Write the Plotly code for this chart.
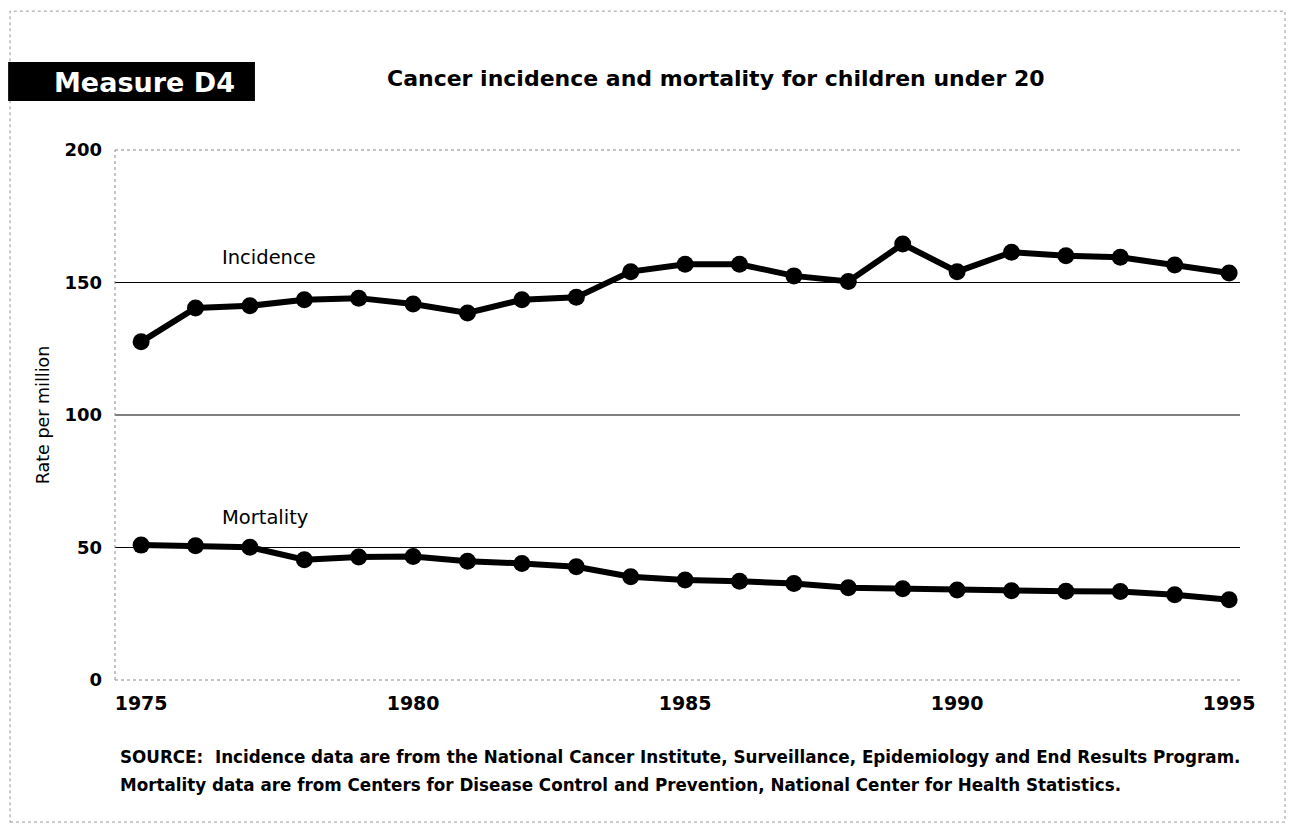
import plotly.graph_objects as go

# data
years = list(range(1975, 1996))
incidence = [127.6, 140.4, 141.2, 143.5, 144.1, 141.9, 138.5, 143.5, 144.4, 154.1, 156.9,
             156.9, 152.5, 150.4, 164.5, 154.1, 161.4, 160.1, 159.5, 156.6, 153.6]
mortality = [50.9, 50.7, 50.1, 45.4, 46.4, 46.6, 44.8, 44.0, 42.7, 39.0, 37.7,
             37.3, 36.4, 34.8, 34.4, 34.0, 33.7, 33.5, 33.4, 32.2, 30.3]
y_ticks = [0, 50, 100, 150, 200]
x_ticks = [1975, 1980, 1985, 1990, 1995]
grid_vals = [50, 100, 150]

font = "DejaVu Sans"

fig = go.Figure()
for name, vals in [("Incidence", incidence), ("Mortality", mortality)]:
    fig.add_trace(go.Scatter(
        x=years, y=vals, name=name, mode="lines+markers",
        line=dict(color="black", width=6),
        marker=dict(color="black", size=17),
        showlegend=False, cliponaxis=False,
    ))

# horizontal rules
for g in grid_vals:
    fig.add_shape(type="line", xref="paper", yref="y", x0=0, x1=1, y0=g, y1=g,
                  line=dict(color="black", width=1.2), layer="below")

# plot frame: left, top, bottom (light, dotted like the scan)
frame = dict(color="#888", width=1, dash="dot")
fig.add_shape(type="line", xref="paper", yref="paper", x0=0, x1=0, y0=0, y1=1, line=frame, layer="below")
fig.add_shape(type="line", xref="paper", yref="paper", x0=0, x1=1, y0=1, y1=1, line=frame, layer="below")
fig.add_shape(type="line", xref="paper", yref="paper", x0=0, x1=1, y0=0, y1=0, line=frame, layer="below")
# page border
fig.add_shape(type="rect", xref="paper", yref="paper", x0=-0.0933, x1=1.04, y0=-0.268, y1=1.262,
              line=dict(color="#999", width=1, dash="dot"), layer="below")
# "Measure D4" box
fig.add_shape(type="rect", xref="paper", yref="paper", x0=-0.095, x1=0.1244, y0=1.0925, y1=1.166,
              fillcolor="black", line=dict(width=0))

fig.add_annotation(text="<b>Measure D4</b>", xref="paper", yref="paper", x=0.026, y=1.128,
                   xanchor="center", yanchor="middle",
                   showarrow=False, font=dict(family=font, size=27, color="white"))
fig.add_annotation(text="<b>Cancer incidence and mortality for children under 20</b>",
                   xref="paper", yref="paper", x=0.24, y=1.1358, xanchor="left", yanchor="middle",
                   showarrow=False, font=dict(family=font, size=22, color="black"))

fig.add_annotation(text="Incidence", x=1976.45, y=159.5, xanchor="left", showarrow=False,
                   font=dict(family=font, size=19.5, color="black"))
fig.add_annotation(text="Mortality", x=1976.45, y=61.5, xanchor="left", showarrow=False,
                   font=dict(family=font, size=19.5, color="black"))

source_lines = [
    "SOURCE:  Incidence data are from the National Cancer Institute, Surveillance, Epidemiology and End Results Program.",
    "Mortality data are from Centers for Disease Control and Prevention, National Center for Health Statistics.",
]
for txt, yy in zip(source_lines, [-0.1453, -0.198]):
    fig.add_annotation(text="<b>" + txt + "</b>", xref="paper", yref="paper", x=0.0027, y=yy,
                       xanchor="left", yanchor="middle", align="left", showarrow=False,
                       font=dict(family=font, size=16.75, color="black"))

fig.update_layout(
    width=1302, height=835,
    margin=dict(l=107, r=70, t=142, b=163),
    paper_bgcolor="white", plot_bgcolor="white",
    font=dict(family=font, color="black"),
    xaxis=dict(range=[1974.52, 1995.2], tickvals=x_ticks, showgrid=False, zeroline=False,
               ticks="", tickfont=dict(size=19, family=font, weight="bold"), ticklabelstandoff=10),
    yaxis=dict(range=[0, 200], tickvals=y_ticks, showgrid=False, zeroline=False,
               ticks="", tickfont=dict(size=18, family=font, weight="bold"), ticklabelstandoff=12,
               title=dict(text="Rate per million", font=dict(size=17.5, family=font), standoff=10)),
)

fig.write_html("out.html")
